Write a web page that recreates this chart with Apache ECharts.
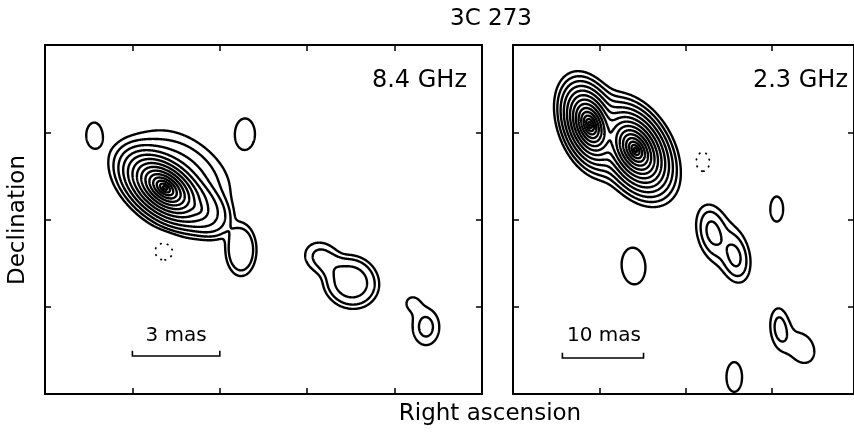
<!DOCTYPE html>
<html><head><meta charset="utf-8">
<script src="https://cdn.jsdelivr.net/npm/echarts@6/dist/echarts.min.js"></script>
<style>html,body{margin:0;padding:0;background:#fff}#c{width:854px;height:432px}</style>
</head><body><div id="c"></div>
<script>
// ---------------- data ----------------
const chartTitle = '3C 273';
const xAxisTitle = 'Right ascension';
const yAxisTitle = 'Declination';
const panelLabels = ['8.4 GHz', '2.3 GHz'];
// contour levels (multiples of the lowest contour)
const positiveLevels = [1, 2, 4, 8, 16, 32, 64, 128, 256, 512, 1024, 2048, 4096, 8192];
const negativeLevels = [-1];
// brightness components, axis units (1 unit = one tick step)
// [u, v, amplitude, sigmaMajor, sigmaMinor, majorAngleDeg, profileExponent]
const comps84 = [
  [1.373, 2.361, 16384, 0.0183, 0.0107, -38, 0.8],
  [1.62, 2.58, 3.5, 0.35, 0.20, -38, 2],
  [1.74, 2.13, 12, 0.07, 0.045, -38, 2],
  [1.79, 2.12, 8, 0.25, 0.165, -40, 3],
  [2.243, 1.650, 3, 0.245, 0.145, 90, 4],
  [0.561, 2.968, 1.65, 0.138, 0.086, 90, 2],
  [2.288, 2.98, 1.65, 0.178, 0.114, 90, 2],
  [1.362, 1.639, -1.5, 0.115, 0.115, 0, 2],
  [3.17, 1.559, 2.3, 0.17, 0.14, -30, 3],
  [3.50, 1.284, 5.5, 0.22, 0.20, -30, 3],
  [4.20, 1.043, 1.2, 0.09, 0.09, 0, 2],
  [4.359, 0.768, 2.6, 0.15, 0.11, 90, 2]
];
const comps23 = [
  [0.892, 3.083, 10000, 0.0168, 0.0099, -70, 0.8],
  [1.419, 2.797, 16000, 0.0175, 0.0110, -60, 0.8],
  [2.197, 2.659, -1.5, 0.126, 0.089, 90, 2],
  [2.42, 1.75, 1.5, 0.31, 0.18, -62, 2],
  [2.311, 1.857, 4, 0.155, 0.085, -78, 2],
  [2.574, 1.570, 4, 0.155, 0.085, -78, 2],
  [1.396, 1.467, 1.65, 0.21, 0.137, 95, 2],
  [3.055, 2.12, 1.65, 0.143, 0.074, 90, 2],
  [3.089, 0.762, 2.5, 0.16, 0.077, 95, 2],
  [3.341, 0.527, 1.65, 0.18, 0.137, -60, 2],
  [2.563, 0.195, 1.65, 0.17, 0.09, 90, 2]
];
const axisXMax = [5, 3.95];
const axisYMax = [4, 4];
const scaleBarMas = [3, 10];
const unitsPerMas = [1 / 3, 0.094];
const scaleBarLabels = ['3 mas', '10 mas'];

// ---------------- contouring ----------------
function buildField(comps, xMax, yMax, step) {
  const nx = Math.round(xMax / step) + 1, ny = Math.round(yMax / step) + 1;
  const dx = xMax / (nx - 1), dy = yMax / (ny - 1);
  const g = new Float64Array(nx * ny);
  for (const c of comps) {
    const [u0, v0, amp, sa, sb, ang, p] = c;
    const t = ang * Math.PI / 180, ct = Math.cos(t), st = Math.sin(t);
    const rr = Math.pow(2 * Math.log(Math.abs(amp) / 0.01), 1 / p);
    const R = rr * Math.max(sa, sb);
    const i0 = Math.max(0, Math.floor((u0 - R) / dx)), i1 = Math.min(nx - 1, Math.ceil((u0 + R) / dx));
    const j0 = Math.max(0, Math.floor((v0 - R) / dy)), j1 = Math.min(ny - 1, Math.ceil((v0 + R) / dy));
    const hp = p / 2;
    for (let j = j0; j <= j1; j++) {
      const y = j * dy - v0;
      for (let i = i0; i <= i1; i++) {
        const x = i * dx - u0;
        const a = (x * ct + y * st) / sa, b = (-x * st + y * ct) / sb;
        const q = a * a + b * b;
        g[j * nx + i] += amp * Math.exp(-0.5 * (hp === 1 ? q : Math.pow(q, hp)));
      }
    }
  }
  return { g, nx, ny, dx, dy };
}

function contourLines(f, L) {
  const { g, nx, ny, dx, dy } = f;
  const adj = new Map();
  const add = (a, b) => {
    let x = adj.get(a); if (!x) { x = []; adj.set(a, x); } x.push(b);
    let y = adj.get(b); if (!y) { y = []; adj.set(b, y); } y.push(a);
  };
  for (let j = 0; j < ny - 1; j++) {
    for (let i = 0; i < nx - 1; i++) {
      const a = g[j * nx + i], b = g[j * nx + i + 1], c = g[(j + 1) * nx + i + 1], d = g[(j + 1) * nx + i];
      const idx = (a > L ? 1 : 0) | (b > L ? 2 : 0) | (c > L ? 4 : 0) | (d > L ? 8 : 0);
      if (idx === 0 || idx === 15) continue;
      const B = (j * nx + i) * 2, R = (j * nx + i + 1) * 2 + 1, T = ((j + 1) * nx + i) * 2, Lf = (j * nx + i) * 2 + 1;
      const ctr = (a + b + c + d) / 4 > L;
      switch (idx) {
        case 1: case 14: add(B, Lf); break;
        case 2: case 13: add(B, R); break;
        case 3: case 12: add(Lf, R); break;
        case 4: case 11: add(R, T); break;
        case 6: case 9: add(B, T); break;
        case 7: case 8: add(Lf, T); break;
        case 5: if (ctr) { add(B, R); add(T, Lf); } else { add(B, Lf); add(R, T); } break;
        case 10: if (ctr) { add(B, Lf); add(R, T); } else { add(B, R); add(T, Lf); } break;
      }
    }
  }
  const pos = k => {
    const id = k >> 1, type = k & 1, j = Math.floor(id / nx), i = id % nx;
    const g0 = g[id];
    if (type === 0) { const t = (L - g0) / (g[id + 1] - g0); return [(i + t) * dx, j * dy]; }
    const t = (L - g0) / (g[id + nx] - g0); return [i * dx, (j + t) * dy];
  };
  const visited = new Set();
  const out = [];
  const walk = start => {
    const pts = [start]; visited.add(start);
    let cur = start;
    while (true) {
      const nb = adj.get(cur); let nxt = -1;
      for (const n of nb) if (!visited.has(n)) { nxt = n; break; }
      if (nxt < 0) { if (pts.length > 2 && nb.includes(start)) pts.push(start); break; }
      visited.add(nxt); pts.push(nxt); cur = nxt;
    }
    return pts.map(pos);
  };
  for (const [k, nb] of adj) if (nb.length === 1 && !visited.has(k)) out.push(walk(k));
  for (const [k] of adj) if (!visited.has(k)) out.push(walk(k));
  return out;
}

// ---------------- chart ----------------
const chart = echarts.init(document.getElementById('c'), null, { renderer: 'canvas' });
const grids = [
  { left: 45, top: 45, width: 437, height: 349 },
  { left: 513, top: 45, width: 345, height: 349 }
];
const frameLine = { show: true, onZero: false, lineStyle: { color: '#000', width: 2 } };
const tick = { show: true, inside: true, length: 6, lineStyle: { color: '#000', width: 1.5 } };
const xAxes = [], yAxes = [], series = [];
[comps84, comps23].forEach((comps, p) => {
  ['bottom', 'top'].forEach(pos => xAxes.push({ gridIndex: p, type: 'value', position: pos, min: 0, max: axisXMax[p], interval: 1,
    axisLine: frameLine, axisTick: tick, axisLabel: { show: false }, splitLine: { show: false } }));
  ['left', 'right'].forEach(pos => yAxes.push({ gridIndex: p, type: 'value', position: pos, min: 0, max: axisYMax[p], interval: 1,
    axisLine: frameLine, axisTick: tick, axisLabel: { show: false }, splitLine: { show: false } }));
  const field = buildField(comps, axisXMax[p], axisYMax[p], 0.006);
  const pos = [], neg = [];
  positiveLevels.forEach(L => contourLines(field, L).forEach(l => pos.push({ coords: l })));
  negativeLevels.forEach(L => contourLines(field, L).forEach(l => neg.push({ coords: l })));
  const base = { type: 'lines', coordinateSystem: 'cartesian2d', xAxisIndex: p * 2, yAxisIndex: p * 2, polyline: true, silent: true, animation: false };
  series.push(Object.assign({}, base, { data: pos, lineStyle: { color: '#000', width: 2.4, opacity: 1, cap: 'round', join: 'round' } }));
  series.push(Object.assign({}, base, { data: neg, lineStyle: { color: '#000', width: 1.8, opacity: 1, type: [0.5, 6.5], cap: 'round' } }));
  // scale bar
  const u0 = p === 0 ? 1 : 0.572, v0 = p === 0 ? 0.436 : 0.413, cap = 0.06;
  const u1 = u0 + scaleBarMas[p] * unitsPerMas[p];
  series.push(Object.assign({}, base, { data: [{ coords: [[u0, v0 + cap], [u0, v0], [u1, v0], [u1, v0 + cap]] }],
    lineStyle: { color: '#000', width: 1.6, opacity: 1 } }));
});
const font = sz => sz + 'px "DejaVu Sans", sans-serif';
const txt = (text, x, y, sz, align, rot) => ({ type: 'text', x, y, rotation: rot || 0, silent: true,
  style: { text, font: font(sz), fill: '#000', align: align || 'center', verticalAlign: 'middle', textAlign: align || 'center', textVerticalAlign: 'middle' } });
chart.setOption({
  animation: false,
  backgroundColor: '#fff',
  grid: grids,
  xAxis: xAxes,
  yAxis: yAxes,
  series,
  graphic: [
    txt(chartTitle, 491, 19, 23),
    txt(xAxisTitle, 490, 414, 23),
    txt(yAxisTitle, 18, 220, 23, 'center', Math.PI / 2),
    txt(panelLabels[0], 467, 81, 24, 'right'),
    txt(panelLabels[1], 848, 81, 24, 'right'),
    txt(scaleBarLabels[0], 176, 336, 20),
    txt(scaleBarLabels[1], 604, 336, 20)
  ]
});
</script></body></html>
